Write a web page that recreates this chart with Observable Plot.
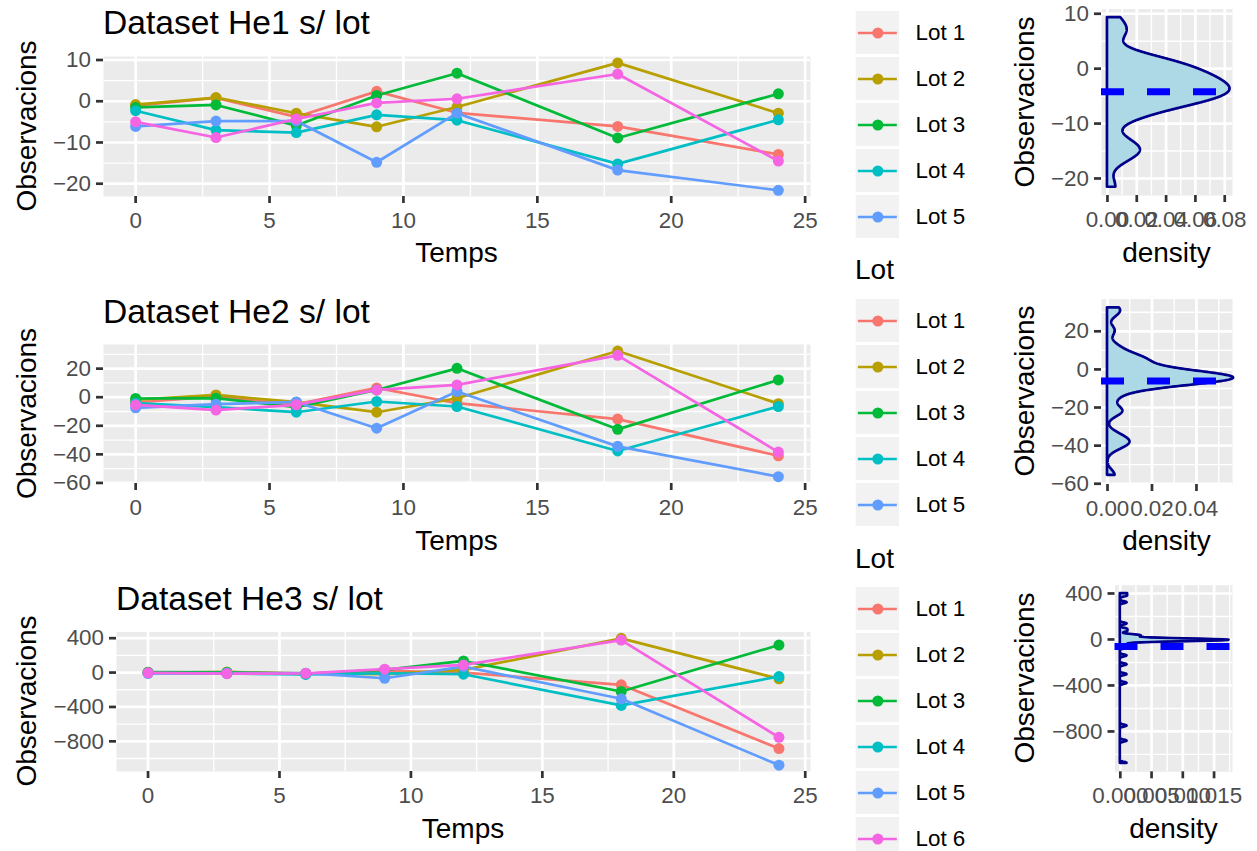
<!DOCTYPE html>
<html><head><meta charset="utf-8">
<script src="https://cdn.jsdelivr.net/npm/d3@7"></script>
<script src="https://cdn.jsdelivr.net/npm/@observablehq/plot@0.6"></script>
<style>
html,body{margin:0;padding:0;background:#fff;}
#root{position:relative;width:1257px;height:851px;overflow:hidden;font-family:"Liberation Sans",Arial,Helvetica,sans-serif;}
#root svg{position:absolute;}
</style></head><body><div id="root"></div>
<script>
// ---------- data ----------
const times = [0, 3, 6, 9, 12, 18, 24];
const lots = ["Lot 1", "Lot 2", "Lot 3", "Lot 4", "Lot 5", "Lot 6"];
const colors = ["#F8766D", "#B79F00", "#00BA38", "#00BFC4", "#619CFF", "#F564E3"];

// He1: one row per lot, one value per time
const he1 = [
  [-1.1, 0.8, -3.8, 2.4, -2.8, -6.1, -12.9],
  [-0.8, 0.9, -2.9, -6.2, -1.4, 9.3, -2.9],
  [-1.5, -0.9, -5.9, 1.4, 6.8, -8.9, 1.8],
  [-2.3, -7.0, -7.6, -3.3, -4.6, -15.2, -4.5],
  [-6.1, -4.8, -4.8, -14.8, -2.9, -16.7, -21.6],
  [-5.0, -8.8, -4.3, -0.4, 0.6, 6.6, -14.5]
];
const he2 = [
  [-3.7, 0.5, -4.9, 6.5, -4.2, -15.3, -41.0],
  [-1.9, 1.6, -3.5, -10.5, -0.7, 32.3, -4.5],
  [-0.9, -0.7, -7.0, 5.1, 20.2, -22.5, 12.1],
  [-4.2, -7.0, -10.5, -3.0, -6.5, -37.6, -6.5],
  [-7.4, -4.9, -3.3, -21.7, 4.0, -34.4, -55.6],
  [-5.3, -9.0, -5.3, 5.1, 8.6, 29.3, -38.4]
];
const he3 = [
  [3, -2, -13, 19, 0, -143, -884],
  [-4, 7, -10, -19, 31, 398, -73],
  [5, 2, -16, 31, 135, -220, 320],
  [-7, -11, -22, -8, -19, -382, -46],
  [-9, -5, -7, -66, 70, -305, -1077],
  [-3, -13, -9, 39, 89, 378, -753]
];

// axis ticks
const xTicks = [0, 5, 10, 15, 20, 25];
const xMinor = [2.5, 7.5, 12.5, 17.5, 22.5];
const he1Ticks = [-20, -10, 0, 10], he1Minor = [-15, -5, 5];
const he2Ticks = [-60, -40, -20, 0, 20], he2Minor = [-50, -30, -10, 10, 30];
const he3Ticks = [-800, -400, 0, 400], he3Minor = [-1000, -600, -200, 200];
const d1Ticks = [0, 0.02, 0.04, 0.06, 0.08], d1Minor = [0.01, 0.03, 0.05, 0.07];
const d2Ticks = [0, 0.02, 0.04], d2Minor = [0.01, 0.03, 0.05];
const d3Ticks = [0, 0.005, 0.01, 0.015], d3Minor = [0.0025, 0.0075, 0.0125, 0.0175];

// ---------- helpers ----------
const FONT = '"Liberation Sans", Arial, Helvetica, sans-serif';
const root = document.getElementById("root");
const TICK = 22.4, AXT = 28, TITLE = 33.6, LW = 2.7;

function tidy(mat){
  return mat.flatMap((row, i) => row.map((v, j) => ({lot: lots[i], t: times[j], v})));
}
function place(svg, left, top){
  svg.style.left = left + "px"; svg.style.top = top + "px";
  root.appendChild(svg);
}
function gridMarks(xt, xm, yt, ym){
  const w = {stroke: "white", strokeOpacity: 1};
  return [
    Plot.frame({fill: "#EBEBEB", stroke: "none"}),
    Plot.gridX(xm, {...w, strokeWidth: LW / 2}),
    Plot.gridY(ym, {...w, strokeWidth: LW / 2}),
    Plot.gridX(xt, {...w, strokeWidth: LW}),
    Plot.gridY(yt, {...w, strokeWidth: LW})
  ];
}
function axes(xt, yt, xf, yf){
  const common = {tickSize: 7, stroke: "#333333", strokeWidth: LW, fill: "#4D4D4D", fontSize: TICK, label: null};
  return [
    Plot.axisX(xt, {...common, tickPadding: 8.5, tickFormat: xf}),
    Plot.axisY(yt, {...common, tickPadding: 5.5, tickFormat: yf})
  ];
}
const fInt = d3.format("d");

function lineChart(mat, yDomain, yt, ym, box){
  const data = tidy(mat);
  const svg = Plot.plot({
    width: box.w, height: box.h,
    marginLeft: box.l, marginRight: box.r, marginTop: box.t, marginBottom: box.b,
    style: {background: "none", fontFamily: FONT, fontSize: TICK + "px", overflow: "visible"},
    x: {domain: [-1.2, 25.2]},
    y: {domain: yDomain},
    color: {domain: lots, range: colors},
    marks: [
      ...gridMarks(xTicks, xMinor, yt, ym),
      Plot.line(data, {x: "t", y: "v", z: "lot", stroke: "lot", strokeWidth: LW}),
      Plot.dot(data, {x: "t", y: "v", fill: "lot", r: 5.5}),
      ...axes(xTicks, yt, fInt, fInt)
    ]
  });
  place(svg, box.x, box.y);
}

function nrd0(x){
  const s = x.slice().sort(d3.ascending);
  const sd = d3.deviation(x);
  const iqr = d3.quantile(s, 0.75) - d3.quantile(s, 0.25);
  let lo = Math.min(sd, iqr / 1.34);
  if (!(lo > 0)) lo = sd || 1;
  return 0.9 * lo * Math.pow(x.length, -0.2);
}
function densityChart(mat, yDomain, yt, ym, xDomain, xt, xm, xf, box){
  const vals = mat.flat();
  const bw = nrd0(vals);
  const [lo, hi] = d3.extent(vals);
  const kde = d3.range(512).map(i => {
    const y = lo + (hi - lo) * i / 511;
    const d = d3.mean(vals, v => Math.exp(-0.5 * ((y - v) / bw) ** 2)) / (bw * Math.sqrt(2 * Math.PI));
    return {y, d};
  });
  const m = d3.mean(vals);
  const svg = Plot.plot({
    width: box.w, height: box.h,
    marginLeft: box.l, marginRight: box.r, marginTop: box.t, marginBottom: box.b,
    style: {background: "none", fontFamily: FONT, fontSize: TICK + "px", overflow: "visible"},
    x: {domain: xDomain},
    y: {domain: yDomain},
    marks: [
      ...gridMarks(xt, xm, yt, ym),
      Plot.areaX(kde, {y: "y", x: "d", fill: "#ADD8E6", stroke: "#00008B", strokeWidth: LW, strokeLinejoin: "round"}),
      Plot.ruleY([m], {stroke: "#0000FF", strokeWidth: 7, strokeDasharray: "23,23"}),
      ...axes(xt, yt, xf, fInt)
    ]
  });
  place(svg, box.x, box.y);
}

function legend(keys, c0, box){
  const n = keys.length;
  const svg = Plot.plot({
    width: box.w, height: box.h, margin: 0,
    style: {background: "none", fontFamily: FONT, overflow: "visible"},
    x: {domain: [0, 1], range: [15.7, 59], axis: null},
    y: {type: "band", domain: keys, range: [c0 - 23, c0 - 23 + 46 * n], paddingInner: 0.06, paddingOuter: 0.03, axis: null},
    color: {domain: lots, range: colors},
    marks: [
      Plot.barX(keys, {y: d => d, x1: 0, x2: 1, fill: "#F2F2F2"}),
      Plot.ruleY(keys, {y: d => d, x1: 0.05, x2: 0.95, stroke: d => d, strokeWidth: LW}),
      Plot.dot(keys, {x: 0.5, y: d => d, fill: d => d, r: 5.5}),
      Plot.text(keys, {x: 1.37, y: d => d, text: d => d, textAnchor: "start", fontSize: TICK, fill: "black"})
    ]
  });
  place(svg, box.x, box.y);
}

// ---------- panels ----------
const dom1 = [-23.1, 10.85], dom2 = [-60.4, 36.9], dom3 = [-1151, 472];

lineChart(he1, dom1, he1Ticks, he1Minor, {x: 0, y: 0, w: 840, h: 280, l: 103, r: 30, t: 56, b: 84});
lineChart(he2, dom2, he2Ticks, he2Minor, {x: 0, y: 287, w: 840, h: 280, l: 103, r: 30, t: 57, b: 84});
lineChart(he3, dom3, he3Ticks, he3Minor, {x: 0, y: 575, w: 840, h: 276, l: 116, r: 30, t: 56.5, b: 80});

densityChart(he1, dom1, he1Ticks, he1Minor, [-0.00406, 0.0853], d1Ticks, d1Minor, d3.format(".2f"),
  {x: 1000, y: 0, w: 257, h: 280, l: 101, r: 25, t: 8.6, b: 85});
densityChart(he2, dom2, he2Ticks, he2Minor, [-0.0027, 0.0562], d2Ticks, d2Minor, d3.format(".2f"),
  {x: 1000, y: 287, w: 257, h: 280, l: 101, r: 25, t: 11.6, b: 83});
densityChart(he3, dom3, he3Ticks, he3Minor, [-0.00085, 0.01795], d3Ticks, d3Minor, d3.format(".3f"),
  {x: 1000, y: 575, w: 257, h: 276, l: 114.5, r: 25, t: 9.7, b: 79.7});

legend(lots.slice(0, 5), 32.8, {x: 840, y: 0, w: 160, h: 250});
legend(lots.slice(0, 5), 320.7, {x: 840, y: 0, w: 160, h: 540});
legend(lots, 608.8, {x: 840, y: 0, w: 160, h: 851});

// ---------- text labels ----------
const ov = d3.create("svg").attr("width", 1257).attr("height", 851)
  .style("left", "0px").style("top", "0px").style("pointer-events", "none")
  .attr("font-family", FONT);
function txt(s, x, y, size, anchor, rot, fill){
  const t = ov.append("text").attr("x", rot ? 0 : x).attr("y", rot ? 0 : y)
    .attr("font-size", size).attr("text-anchor", anchor).attr("fill", fill || "black").text(s);
  if (rot) t.attr("transform", `translate(${x},${y}) rotate(-90)`);
}
txt("Dataset He1 s/ lot", 103, 34, TITLE, "start");
txt("Dataset He2 s/ lot", 103, 323, TITLE, "start");
txt("Dataset He3 s/ lot", 116, 610, TITLE, "start");
[[126, 262], [413.5, 550], [701, 838]].forEach(([yc, yb], i) => {
  txt("Observacions", 35.5, yc, AXT, "middle", true);
  txt("Temps", i === 2 ? 463 : 456.5, yb, AXT, "middle");
});
txt("Observacions", 1034, 102, AXT, "middle", true);
txt("Observacions", 1034, 391, AXT, "middle", true);
txt("Observacions", 1034, 678, AXT, "middle", true);
txt("density", 1166.5, 262, AXT, "middle");
txt("density", 1166.5, 550, AXT, "middle");
txt("density", 1173.5, 838, AXT, "middle");
txt("Lot", 855, 279, AXT, "start");
txt("Lot", 855, 568, AXT, "start");
root.appendChild(ov.node());
</script></body></html>
